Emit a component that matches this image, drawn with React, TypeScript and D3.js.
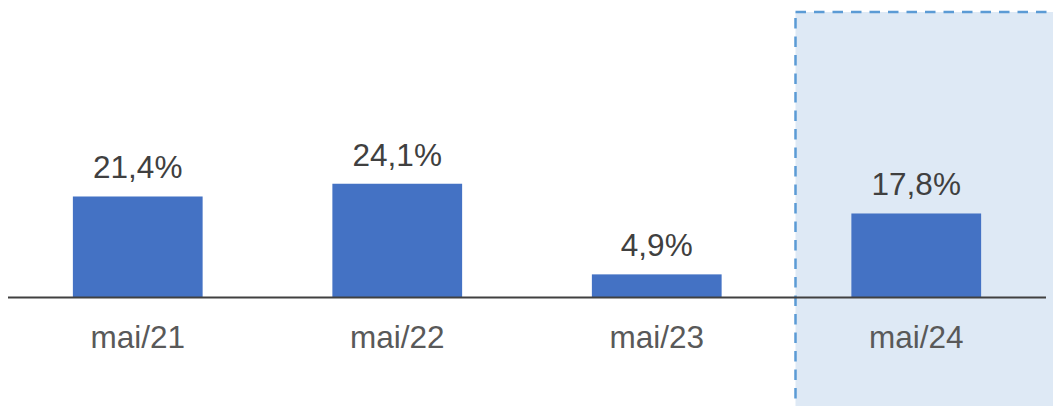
import React from "react";
import * as d3 from "d3";

const categories = ["mai/21", "mai/22", "mai/23", "mai/24"];
const values = [21.4, 24.1, 4.9, 17.8];
const valueLabels = ["21,4%", "24,1%", "4,9%", "17,8%"];
const highlighted = ["mai/24"];

const W = 1053;
const H = 406;

export default function App() {
  const x = d3
    .scaleBand<string>()
    .domain(categories)
    .range([8, 1046])
    .paddingInner(0.5)
    .paddingOuter(0.25);
  const y = d3.scaleLinear().domain([0, 25]).range([297.5, 297.5 - 118]);
  const step = x.step();
  const font = "'Liberation Sans', Arial, sans-serif";

  return (
    <>
      <style>{`body{margin:0}`}</style>
      <svg width={W} height={H} style={{ display: "block" }}>
        <rect width={W} height={H} fill="#ffffff" />
        {highlighted.map((c) => {
          const left = (x(c) as number) - (step - x.bandwidth()) / 2 + 9;
          return (
            <rect
              key={c}
              x={left}
              y={12}
              width={W - left + 20}
              height={H}
              fill="#DEE9F5"
              stroke="#5B9BD5"
              strokeWidth={2.5}
              strokeDasharray="10.5 8"
            />
          );
        })}
        {categories.map((c, i) => (
          <rect
            key={c}
            x={x(c)}
            y={y(values[i])}
            width={x.bandwidth()}
            height={y(0) - y(values[i])}
            fill="#4472C4"
          />
        ))}
        <line x1={8} x2={1046} y1={y(0)} y2={y(0)} stroke="#404040" strokeWidth={2} />
        {categories.map((c, i) => (
          <text
            key={"v" + c}
            x={(x(c) as number) + x.bandwidth() / 2}
            y={y(values[i]) - 18}
            textAnchor="middle"
            fontFamily={font}
            fontSize={31.5}
            fill="#404040"
          >
            {valueLabels[i]}
          </text>
        ))}
        {categories.map((c) => (
          <text
            key={"c" + c}
            x={(x(c) as number) + x.bandwidth() / 2}
            y={347.5}
            textAnchor="middle"
            fontFamily={font}
            fontSize={31.5}
            fill="#595959"
          >
            {c}
          </text>
        ))}
      </svg>
    </>
  );
}
